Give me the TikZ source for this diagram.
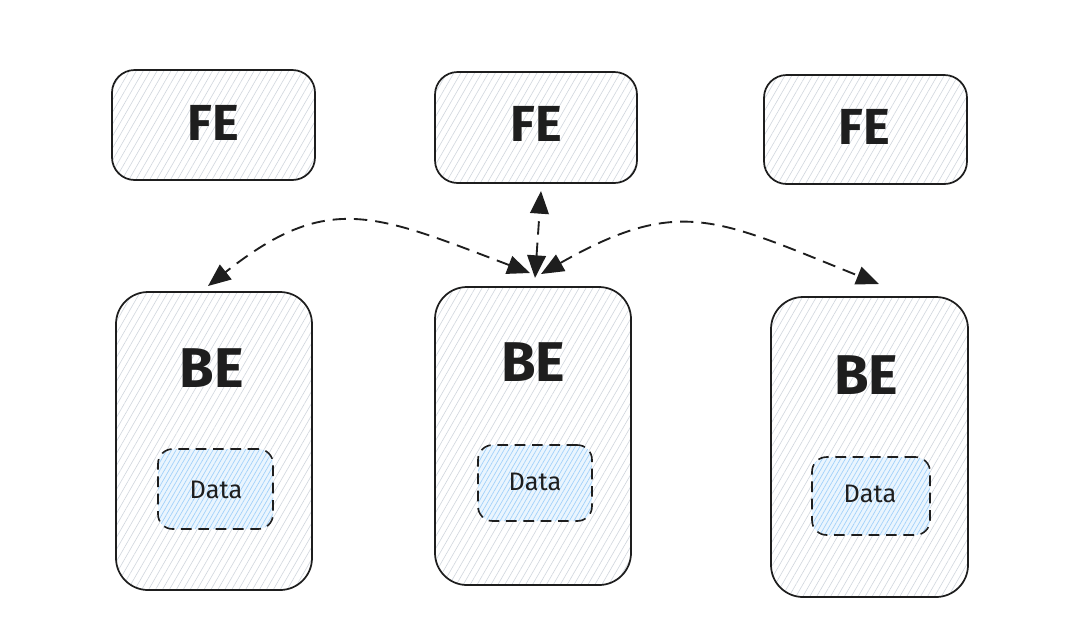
\documentclass[tikz,border=0pt]{standalone}
\usepackage{fontspec}
\setmainfont{Fira Sans}
\usetikzlibrary{arrows.meta,patterns.meta}
\definecolor{ink}{HTML}{1E1E1E}
\definecolor{hatchgray}{HTML}{D0D6DD}
\definecolor{hatchblue}{HTML}{9FD0FA}
\definecolor{fillblue}{HTML}{EAF5FE}
\begin{document}
\begin{tikzpicture}[x=0.75pt,y=-0.75pt,
  sketchbox/.style={draw=ink, line width=1.3pt, inner sep=0pt,
    preaction={fill=white},
    pattern={Lines[angle=60,distance=4.5pt,line width=0.45pt]}, pattern color=hatchgray},
  febox/.style={sketchbox, rounded corners=17pt},
  bebox/.style={sketchbox, rounded corners=24pt},
  databox/.style={draw=ink, line width=1.2pt, inner sep=0pt, rounded corners=11pt,
    dash pattern=on 8pt off 5pt,
    preaction={fill=fillblue},
    pattern={Lines[angle=60,distance=3pt,line width=0.5pt]}, pattern color=hatchblue},
  bigtext/.style={font=\bfseries\fontsize{38}{40}\selectfont, text=ink},
  betext/.style={font=\bfseries\fontsize{42}{44}\selectfont, text=ink},
  datatext/.style={font=\fontsize{19}{21}\selectfont, text=ink},
  link/.style={draw=ink, line width=1.4pt, dash pattern=on 10pt off 6pt,
    {Triangle[length=17pt,width=14pt]}-{Triangle[length=17pt,width=14pt]}}
]
\useasboundingbox (0,0) rectangle (1080,619);

% FE boxes
\node[febox, minimum width=152.25pt, minimum height=82.5pt] (fe1) at (213.5,125) {};
\node[febox, minimum width=151.5pt, minimum height=83.25pt] (fe2) at (536,127.5) {};
\node[febox, minimum width=152.25pt, minimum height=81.75pt] (fe3) at (865.5,129.5) {};
\node[bigtext] (fe1t) at (213,123) {FE};
\node[bigtext] (fe2t) at (536,124) {FE};
\node[bigtext] (fe3t) at (864,127) {FE};

% BE boxes
\node[bebox, minimum width=147pt, minimum height=223.5pt] (be1) at (214,441) {};
\node[bebox, minimum width=147pt, minimum height=223.5pt] (be2) at (533,436) {};
\node[bebox, minimum width=147.75pt, minimum height=225pt] (be3) at (869.5,447) {};
\node[betext] (be1t) at (212,368) {BE};
\node[betext] (be2t) at (533,362) {BE};
\node[betext] (be3t) at (866,375) {BE};

% Data boxes
\node[databox, minimum width=86.25pt, minimum height=60pt] (d1) at (215.5,489) {};
\node[databox, minimum width=85.5pt, minimum height=57pt] (d2) at (535,483) {};
\node[databox, minimum width=88.5pt, minimum height=58.5pt] (d3) at (871,496) {};
\node[datatext] (d1t) at (216,490) {Data};
\node[datatext] (d2t) at (535,482) {Data};
\node[datatext] (d3t) at (870,494) {Data};

% connectors
\coordinate (hubL) at (530,273);
\coordinate (hubU) at (535,278);
\coordinate (hubR) at (541,274);
\coordinate (endL) at (208,286);
\coordinate (endU) at (541,191);
\coordinate (endR) at (879,284);

\draw[link] (hubL) .. controls (375,214) and (328,191) .. (endL);
\draw[link] (hubU) -- (endU);
\draw[link] (hubR) .. controls (680,195) and (717,219) .. (endR);
\end{tikzpicture}
\end{document}
